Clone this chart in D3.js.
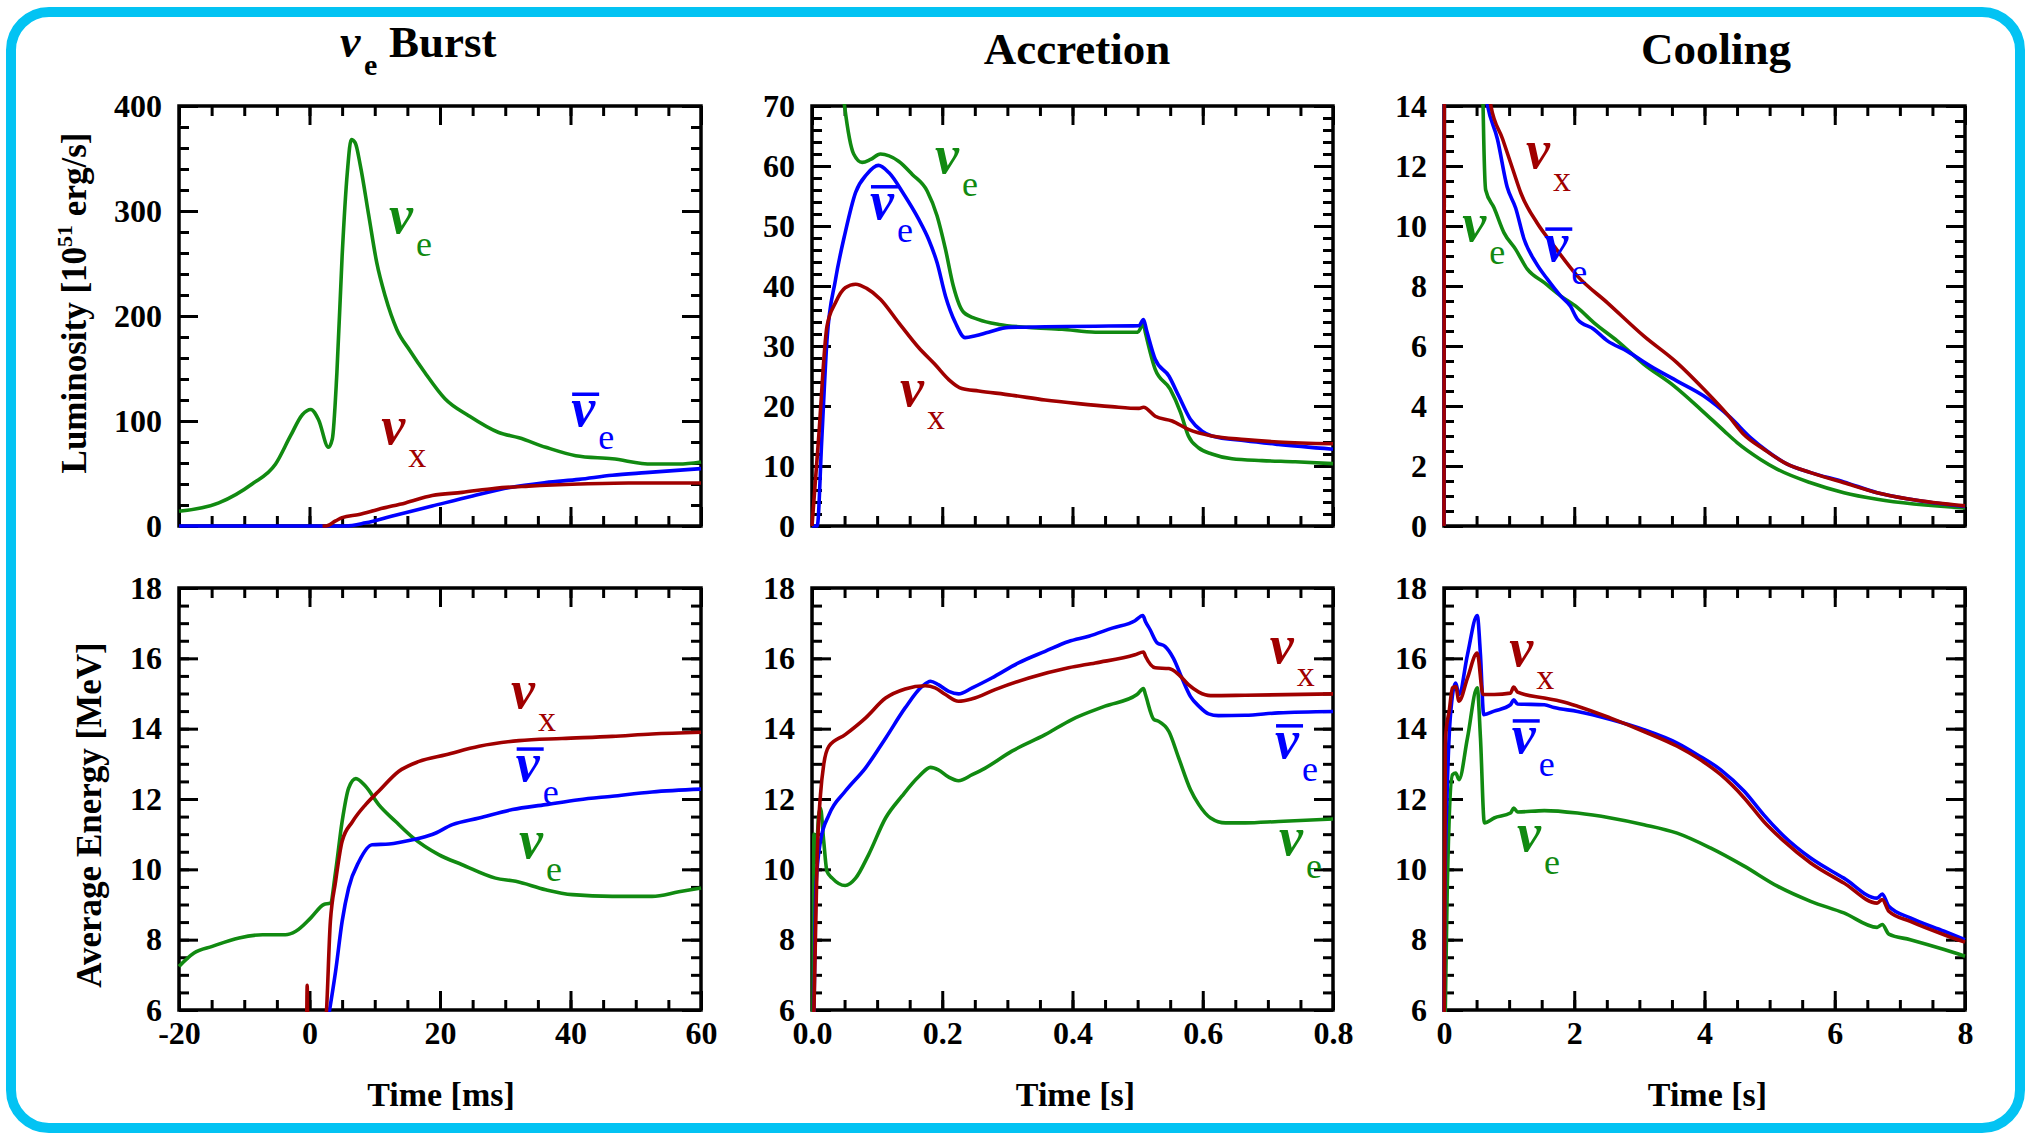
<!DOCTYPE html>
<html>
<head>
<meta charset="utf-8">
<script src="https://cdn.jsdelivr.net/npm/d3@7"></script>
<style>
  body { margin: 0; background: #fff; }
  svg { display: block; }
  text { font-family: "Liberation Serif", "Times New Roman", serif; }
</style>
</head>
<body>
<script>
// ---- data: [time, value] ----
// neutrino burst, luminosity (1e51 erg/s) vs time (ms)
const burstLumNuE = [[-20,14],[-13.9,22],[-8.8,40],[-5.2,59],[-2.9,86],[-1.1,106],[0.2,111],[1.4,101],[2.9,75],[3.5,83],[4.2,146],[5.0,257],[5.8,337],[6.4,368],[7.0,365],[7.8,343],[9.1,295],[10.3,251],[11.6,219],[13.4,187],[15.4,167],[17.7,146],[20.8,121],[24.4,105],[29,89],[32.1,84],[36.2,75],[40.8,67],[46.4,64],[52.5,59],[56.6,59],[60,61]];
const burstLumNuX = [[2.0,0],[2.5,0],[4,4.8],[5,8],[7.6,11],[10.6,16],[14.7,22],[18.8,29],[23.4,32],[28.5,36],[33.6,38],[41.3,40],[48.9,41],[60,41]];
const burstLumNuEbar = [[-20,0],[5.5,0],[8.6,3],[12.7,9.5],[18.8,19],[25,28.6],[31,37],[36.2,41.3],[41.3,44.4],[46.4,48.3],[51.5,50.8],[60,54.6]];

// accretion phase, luminosity vs time (s)
const accLumNuE = [[0.03,95],[0.05,70],[0.064,62],[0.077,60.6],[0.09,61.1],[0.105,62],[0.133,60.8],[0.154,58.6],[0.177,55.8],[0.192,51.7],[0.205,46.1],[0.217,40],[0.233,35.6],[0.256,34.4],[0.287,33.6],[0.333,33.1],[0.384,32.8],[0.435,32.3],[0.5,32.3],[0.509,33.6],[0.512,32.2],[0.527,26.1],[0.55,22.8],[0.566,18.9],[0.578,15],[0.594,13],[0.614,12],[0.645,11.2],[0.691,10.9],[0.742,10.7],[0.8,10.4]];
const accLumNuEbar = [[0,0],[0.008,0],[0.015,14.4],[0.023,31],[0.036,41],[0.051,48.9],[0.067,55.6],[0.084,58.6],[0.102,60.1],[0.118,58.9],[0.141,55.3],[0.164,51.1],[0.179,47.8],[0.192,43.9],[0.205,38.3],[0.22,33.9],[0.235,31.4],[0.251,31.7],[0.271,32.3],[0.302,33.1],[0.358,33.2],[0.435,33.3],[0.502,33.4],[0.509,34.4],[0.514,32.5],[0.527,27.8],[0.548,25],[0.563,21.7],[0.581,17.8],[0.599,15.8],[0.614,15],[0.665,14.2],[0.716,13.6],[0.8,12.8]];
const accLumNuX = [[0,0],[0.01,14.4],[0.023,33.3],[0.036,37.2],[0.051,39.7],[0.067,40.3],[0.084,39.6],[0.105,37.8],[0.133,33.9],[0.164,29.7],[0.189,26.9],[0.21,24.4],[0.23,22.9],[0.256,22.5],[0.307,21.8],[0.358,21],[0.409,20.4],[0.46,19.9],[0.502,19.6],[0.509,19.8],[0.527,18.3],[0.553,17.5],[0.578,16.1],[0.614,15],[0.665,14.4],[0.716,14],[0.8,13.7]];

// cooling phase, luminosity vs time (s)
const coolLumNuE = [[0,0],[0.02,40],[0.5,20],[0.6,14],[0.61,12.9],[0.64,11.2],[0.77,10.6],[0.92,9.78],[1.1,9.22],[1.28,8.56],[1.54,8.11],[1.79,7.67],[2.05,7.28],[2.3,6.78],[2.66,6.17],[3.07,5.39],[3.53,4.67],[3.94,3.89],[4.3,3.17],[4.5,2.78],[4.86,2.22],[5.12,1.89],[5.63,1.44],[6.14,1.11],[6.65,0.89],[8,0.6]];
const coolLumNuEbar = [[0,0],[0.02,40],[0.45,18],[0.67,14],[0.82,12.9],[0.97,11.3],[1.1,10.6],[1.23,9.56],[1.41,8.78],[1.59,8.22],[1.79,7.67],[1.94,7.33],[2.05,6.89],[2.3,6.56],[2.51,6.17],[2.81,5.83],[3.17,5.33],[3.58,4.83],[3.99,4.33],[4.4,3.61],[4.71,2.94],[4.96,2.5],[5.27,2.06],[5.63,1.78],[6.14,1.47],[6.65,1.11],[7.16,0.89],[8,0.65]];
const coolLumNuX = [[0,0],[0.02,40],[0.5,18],[0.72,14],[0.9,12.9],[1.07,11.8],[1.18,11.1],[1.43,10.1],[1.69,9.33],[2.05,8.33],[2.51,7.44],[3.07,6.33],[3.58,5.44],[3.99,4.56],[4.35,3.72],[4.6,3.06],[4.91,2.56],[5.27,2.06],[5.63,1.78],[6.14,1.44],[6.65,1.11],[7.16,0.89],[8,0.67]];

// neutrino burst, average energy (MeV) vs time (ms)
const burstEnNuE = [[-20,7.24],[-17.7,7.62],[-14.9,7.81],[-10.8,8.05],[-7.2,8.14],[-3.7,8.14],[-2.1,8.24],[0.2,8.62],[2.2,9.0],[3.2,9.04],[4.0,9.94],[5.0,11.36],[6.0,12.31],[7.1,12.58],[8.6,12.36],[10.6,11.84],[13.2,11.36],[15.8,10.91],[19.8,10.42],[23.4,10.13],[28.5,9.75],[31.6,9.66],[36.2,9.42],[40.3,9.28],[46.4,9.23],[52.5,9.23],[56.6,9.36],[60,9.47]];
const burstEnNuEbar = [[2.9,5.8],[4,7.1],[5,8.52],[6,9.47],[7.6,10.23],[9.6,10.7],[12.2,10.72],[15.8,10.84],[18.8,10.99],[21.9,11.27],[26,11.46],[31.1,11.7],[36.2,11.84],[41.3,11.98],[46.4,12.08],[52.5,12.2],[60,12.28]];
const burstEnNuX = [[-0.45,5],[-0.35,6.7],[-0.25,5],[2.4,5.5],[3.2,8.52],[4,9.66],[5,10.8],[6.6,11.36],[8.6,11.84],[10.6,12.22],[13.7,12.79],[16.8,13.07],[20.9,13.26],[26,13.5],[32.1,13.66],[38.7,13.72],[46.4,13.78],[52.5,13.85],[60,13.9]];

// accretion phase, average energy vs time (s)
const accEnNuE = [[0,4],[0.0015,6],[0.003,11.0],[0.006,10.2],[0.01,11.5],[0.013,11.74],[0.018,10.8],[0.023,9.94],[0.031,9.75],[0.051,9.54],[0.067,9.75],[0.087,10.42],[0.113,11.46],[0.138,12.08],[0.164,12.64],[0.182,12.9],[0.194,12.83],[0.21,12.62],[0.225,12.52],[0.246,12.69],[0.266,12.88],[0.307,13.36],[0.358,13.83],[0.399,14.26],[0.45,14.64],[0.499,14.97],[0.509,15.14],[0.512,14.97],[0.525,14.26],[0.532,14.21],[0.548,13.92],[0.563,13.17],[0.581,12.27],[0.594,11.84],[0.612,11.46],[0.635,11.32],[0.665,11.32],[0.716,11.36],[0.8,11.43]];
const accEnNuEbar = [[0,4],[0.003,6],[0.006,9.47],[0.013,10.8],[0.026,11.55],[0.051,12.22],[0.082,12.88],[0.113,13.73],[0.143,14.59],[0.169,15.2],[0.182,15.35],[0.194,15.25],[0.21,15.06],[0.225,14.99],[0.246,15.16],[0.276,15.44],[0.317,15.87],[0.358,16.2],[0.394,16.48],[0.425,16.63],[0.461,16.86],[0.496,17.07],[0.508,17.22],[0.512,17.05],[0.519,16.82],[0.53,16.44],[0.542,16.34],[0.555,16.0],[0.568,15.44],[0.581,14.92],[0.594,14.64],[0.609,14.42],[0.624,14.37],[0.665,14.38],[0.716,14.45],[0.8,14.49]];
const accEnNuX = [[0,4],[0.003,6],[0.008,10.42],[0.013,12.12],[0.018,12.98],[0.026,13.5],[0.051,13.83],[0.082,14.3],[0.113,14.87],[0.143,15.13],[0.174,15.22],[0.189,15.16],[0.205,14.97],[0.225,14.78],[0.246,14.85],[0.281,15.11],[0.333,15.44],[0.394,15.73],[0.435,15.87],[0.496,16.1],[0.509,16.18],[0.512,16.06],[0.527,15.73],[0.548,15.71],[0.563,15.54],[0.578,15.25],[0.594,15.04],[0.612,14.94],[0.665,14.95],[0.8,14.99]];

// cooling phase, average energy vs time (s)
const coolEnNuE = [[0,4],[0.02,6],[0.05,9.47],[0.13,12.69],[0.18,12.74],[0.23,12.55],[0.36,13.73],[0.51,15.16],[0.56,13.73],[0.62,11.32],[0.77,11.46],[1.02,11.6],[1.07,11.74],[1.13,11.63],[1.54,11.67],[2.05,11.6],[2.56,11.46],[3.07,11.27],[3.58,11.03],[4.09,10.61],[4.61,10.09],[5.12,9.52],[5.63,9.09],[6.14,8.76],[6.65,8.35],[6.73,8.43],[6.83,8.16],[7.16,8.0],[7.68,7.72],[8,7.53]];
const coolEnNuEbar = [[0,4],[0.01,8.9],[0.05,12.3],[0.1,14.4],[0.18,15.3],[0.23,14.97],[0.36,16.1],[0.51,17.22],[0.56,16.1],[0.61,14.4],[0.77,14.5],[1.02,14.68],[1.07,14.82],[1.13,14.7],[1.54,14.68],[1.69,14.6],[2.05,14.49],[2.56,14.26],[3.07,13.97],[3.58,13.59],[3.89,13.26],[4.25,12.83],[4.61,12.22],[4.91,11.55],[5.22,10.94],[5.63,10.32],[6.14,9.75],[6.65,9.18],[6.73,9.3],[6.83,8.95],[7.16,8.62],[7.68,8.24],[8,8.0]];
const coolEnNuX = [[0,4],[0.02,13.45],[0.03,13.9],[0.08,14.5],[0.13,15.16],[0.18,15.2],[0.23,14.78],[0.36,15.44],[0.51,16.15],[0.6,14.97],[0.77,14.97],[1.02,15.01],[1.07,15.18],[1.13,15.04],[1.54,14.87],[1.79,14.78],[2.05,14.64],[2.56,14.3],[3.07,13.92],[3.58,13.5],[3.89,13.17],[4.25,12.69],[4.61,12.03],[4.91,11.36],[5.22,10.8],[5.63,10.18],[6.14,9.61],[6.65,9.04],[6.73,9.14],[6.83,8.81],[7.16,8.52],[7.68,8.14],[8,7.93]];

// axis ranges and tick labels
const phaseTitles = ["Burst", "Accretion", "Cooling"];
const xTitles = ["Time [ms]", "Time [s]", "Time [s]"];
const xDomains = [[-20, 60], [0, 0.8], [0, 8]];
const xMajorTicks = [[-20, 0, 20, 40, 60], [0, 0.2, 0.4, 0.6, 0.8], [0, 2, 4, 6, 8]];
const xMinorStep = [5, 0.05, 0.5];
const lumDomains = [[0, 400], [0, 70], [0, 14]];
const lumMajorTicks = [[0, 100, 200, 300, 400], [0, 10, 20, 30, 40, 50, 60, 70], [0, 2, 4, 6, 8, 10, 12, 14]];
const lumMinorStep = [20, 2, 0.5];
const energyDomain = [6, 18];
const energyMajorTicks = [6, 8, 10, 12, 14, 16, 18];
const energyMinorStep = 0.5;

// curve labels, in data units: [kind, time, value]
const lumLabels = [
  [["e", 12.2, 279], ["x", 11.0, 78], ["ebar", 40.1, 95]],
  [["e", 0.189, 58.8], ["ebar", 0.089, 51.2], ["x", 0.135, 20]],
  [["x", 1.26, 11.93], ["ebar", 1.54, 8.83], ["e", 0.28, 9.5]]
];
const energyLabels = [
  [["x", 30.9, 14.59], ["ebar", 31.6, 12.51], ["e", 32.1, 10.32]],
  [["x", 0.703, 15.87], ["ebar", 0.711, 13.17], ["e", 0.717, 10.41]],
  [["x", 1.0, 15.78], ["ebar", 1.04, 13.31], ["e", 1.12, 10.52]]
];

const GREEN = "#118a11", BLUE = "#0000ff", RED = "#a00000";
const colour = { e: GREEN, ebar: BLUE, x: RED };

const W = 2031, H = 1140;
const colX = [[179, 701], [812, 1333], [1444, 1965]];
const rowY = [[106, 526], [588, 1010]];

const svg = d3.select("body").append("svg")
  .attr("width", W).attr("height", H);

svg.append("rect")
  .attr("x", 11).attr("y", 12)
  .attr("width", W - 22).attr("height", H - 24)
  .attr("rx", 38)
  .attr("fill", "#fff")
  .attr("stroke", "#03c3f3")
  .attr("stroke-width", 10);

const stepRange = (d, step) => d3.range(Math.round((d[1] - d[0]) / step) + 1).map(i => d[0] + i * step);

const panels = [];
for (let c = 0; c < 3; c++) {
  panels.push({
    col: c, row: 0, xDomain: xDomains[c], yDomain: lumDomains[c],
    xMajor: xMajorTicks[c], xStep: xMinorStep[c],
    yMajor: lumMajorTicks[c], yStep: lumMinorStep[c],
    series: [
      { data: [burstLumNuE, accLumNuE, coolLumNuE][c], color: GREEN },
      { data: [burstLumNuEbar, accLumNuEbar, coolLumNuEbar][c], color: BLUE },
      { data: [burstLumNuX, accLumNuX, coolLumNuX][c], color: RED }
    ],
    labels: lumLabels[c], showX: false
  });
}
for (let c = 0; c < 3; c++) {
  panels.push({
    col: c, row: 1, xDomain: xDomains[c], yDomain: energyDomain,
    xMajor: xMajorTicks[c], xStep: xMinorStep[c],
    yMajor: energyMajorTicks, yStep: energyMinorStep,
    series: [
      { data: [burstEnNuE, accEnNuE, coolEnNuE][c], color: GREEN },
      { data: [burstEnNuEbar, accEnNuEbar, coolEnNuEbar][c], color: BLUE },
      { data: [burstEnNuX, accEnNuX, coolEnNuX][c], color: RED }
    ],
    labels: energyLabels[c], showX: true
  });
}

const xFormats = [d => String(d), d3.format(".1f"), d => String(d)];

// greek nu with a subscript (and an overbar for the antineutrino)
function nuLabel(sel, kind, col) {
  sel.append("text")
    .attr("font-size", 54).attr("font-style", "italic").attr("font-weight", "bold")
    .attr("fill", col).text("ν");
  sel.append("text")
    .attr("x", 27).attr("y", 23)
    .attr("font-size", 36).attr("fill", col)
    .text(kind === "x" ? "x" : "e");
  if (kind === "ebar") {
    sel.append("line")
      .attr("x1", 1).attr("x2", 28)
      .attr("y1", -32).attr("y2", -32)
      .attr("stroke", col).attr("stroke-width", 3.5);
  }
}

panels.forEach((p, i) => {
  const [x0, x1] = colX[p.col];
  const [y0, y1] = rowY[p.row];
  const x = d3.scaleLinear().domain(p.xDomain).range([x0, x1]);
  const y = d3.scaleLinear().domain(p.yDomain).range([y1, y0]);
  const g = svg.append("g");

  g.append("rect")
    .attr("x", x0).attr("y", y0)
    .attr("width", x1 - x0).attr("height", y1 - y0)
    .attr("fill", "none").attr("stroke", "#000").attr("stroke-width", 3.5);

  const xMinor = stepRange(p.xDomain, p.xStep);
  const yMinor = stepRange(p.yDomain, p.yStep);

  // inward ticks on all four sides, minor then major
  const sides = [
    [d3.axisBottom(x), `translate(0,${y1})`, xMinor, p.xMajor, p.showX],
    [d3.axisTop(x), `translate(0,${y0})`, xMinor, p.xMajor, false],
    [d3.axisLeft(y), `translate(${x0},0)`, yMinor, p.yMajor, true],
    [d3.axisRight(y), `translate(${x1},0)`, yMinor, p.yMajor, false]
  ];
  sides.forEach(([axis, tr, minor, major, labelled], k) => {
    const isX = k < 2;
    g.append("g").attr("transform", tr)
      .call(axis.tickValues(minor).tickSizeInner(-10).tickSizeOuter(0).tickFormat(""))
      .call(s => s.select(".domain").remove())
      .call(s => s.selectAll("line").attr("stroke-width", 3));
    const fmt = isX ? xFormats[p.col] : (d => String(d));
    g.append("g").attr("transform", tr)
      .call(axis.tickValues(major).tickSizeInner(-19).tickSizeOuter(0)
        .tickPadding(isX ? 11 : 17)
        .tickFormat(labelled ? fmt : ""))
      .call(s => s.select(".domain").remove())
      .call(s => s.selectAll("line").attr("stroke-width", 3))
      .call(s => s.selectAll("text")
        .attr("font-weight", "bold")
        .attr("font-size", 32)
        .attr("fill", "#000"));
  });

  const clipId = "clip" + i;
  svg.append("clipPath").attr("id", clipId)
    .append("rect")
    .attr("x", x0 - 2).attr("y", y0 - 2)
    .attr("width", x1 - x0 + 4).attr("height", y1 - y0 + 4);

  const line = d3.line()
    .x(d => x(d[0])).y(d => y(d[1]))
    .curve(d3.curveMonotoneX);

  const curves = g.append("g").attr("clip-path", `url(#${clipId})`);
  p.series.forEach(s => {
    curves.append("path")
      .attr("d", line(s.data))
      .attr("fill", "none")
      .attr("stroke", s.color)
      .attr("stroke-width", 3.6)
      .attr("stroke-linejoin", "round");
  });

  p.labels.forEach(([kind, lx, ly]) => {
    const lg = g.append("g").attr("transform", `translate(${x(lx)},${y(ly)})`);
    nuLabel(lg, kind, colour[kind]);
  });

  if (p.showX) {
    svg.append("text")
      .attr("x", (x0 + x1) / 2 + [1, 3, 3][p.col]).attr("y", 1106)
      .attr("text-anchor", "middle")
      .attr("font-weight", "bold").attr("font-size", 34)
      .text(xTitles[p.col]);
  }
});

// column titles
const title = svg.append("g").attr("font-weight", "bold");
title.append("text").attr("x", 340).attr("y", 57).attr("font-size", 46).attr("font-style", "italic").text("ν");
title.append("text").attr("x", 364).attr("y", 75).attr("font-size", 30).text("e");
title.append("text").attr("x", 389).attr("y", 57).attr("font-size", 45).text(phaseTitles[0]);
title.append("text").attr("x", 1077).attr("y", 64).attr("font-size", 45).attr("text-anchor", "middle").text(phaseTitles[1]);
title.append("text").attr("x", 1716).attr("y", 64).attr("font-size", 45).attr("text-anchor", "middle").text(phaseTitles[2]);

// y axis titles
const lum = svg.append("text")
  .attr("transform", "translate(86,303) rotate(-90)")
  .attr("text-anchor", "middle")
  .attr("font-weight", "bold").attr("font-size", 35);
lum.append("tspan").text("Luminosity [10");
lum.append("tspan").attr("font-size", 22).attr("dy", -14).text("51");
lum.append("tspan").attr("dy", 14).text(" erg/s]");

svg.append("text")
  .attr("transform", "translate(101,815) rotate(-90)")
  .attr("text-anchor", "middle")
  .attr("font-weight", "bold").attr("font-size", 35)
  .text("Average Energy [MeV]");
</script>
</body>
</html>
